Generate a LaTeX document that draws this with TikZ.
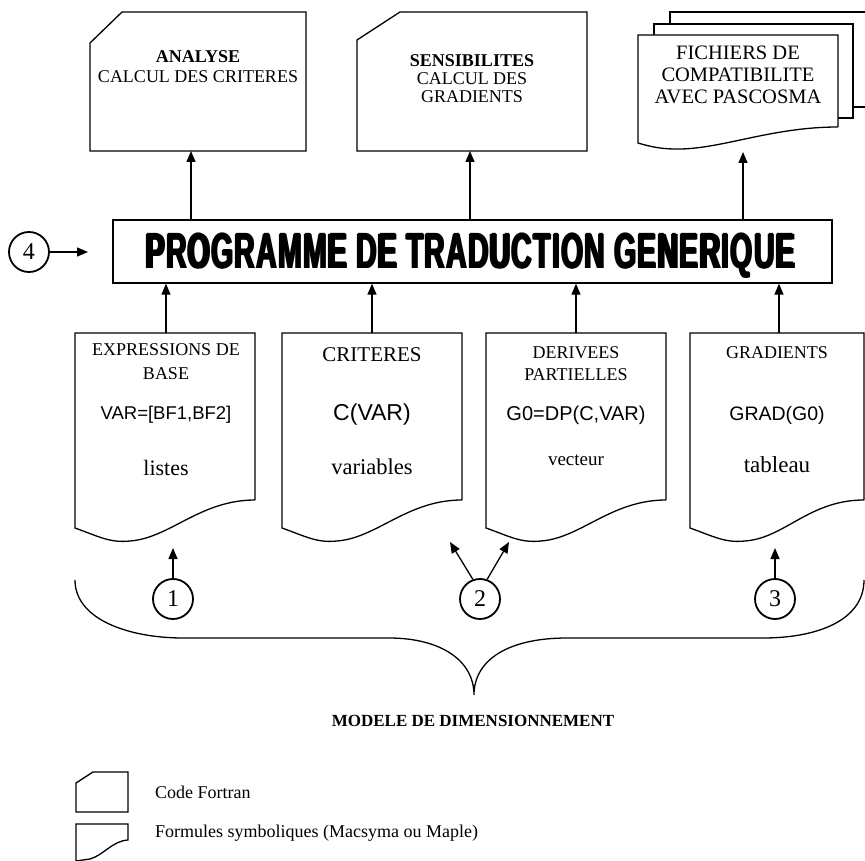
\documentclass[tikz,border=0pt]{standalone}
\usepackage{fontspec}
\setmainfont{Liberation Serif}
\newfontfamily\sansf{Liberation Sans}
\newfontfamily\titlef{Liberation Sans Bold}[LetterSpace=4]
\usetikzlibrary{arrows.meta,calc}

\newcommand{\fs}[2]{\fontsize{#1}{#2}\selectfont}
% overprinted, slightly shifted copies give the extra-black heading face
\newcommand{\heavytext}[1]{%
  \makebox[0pt][l]{\kern-0.4pt#1}%
  \makebox[0pt][l]{\kern0.4pt#1}%
  \makebox[0pt][l]{\raisebox{0.08pt}{#1}}%
  #1}

\tikzset{
  outline/.style={draw=black, line width=1.3pt, line join=miter, fill=white},
  arr/.style={line width=1.3pt, -{Triangle[length=11pt,width=9pt]}},
  lbl/.style={inner sep=0pt, align=center},
  num/.style={draw, circle, line width=1.8pt, minimum size=40pt, inner sep=0pt,
              font=\fs{24}{24}},
  mainbox/.style={draw, line width=1.3pt, minimum width=719pt, minimum height=63pt,
              inner sep=0pt},
}

% symbolic-formula sheet: flat top, wavy bottom (#1 = left x, #2 = right x)
\newcommand{\symsheet}[2]{%
  \draw[outline] (#2,500) -- (#2,333) -- (#1,333) -- (#1,528)
    .. controls +(25,9) and +(-20,2) .. ++(55,13)
    .. controls +(40,-3) and +(-55,0) .. (#2,500);}

\begin{document}
\begin{tikzpicture}[x=1pt,y=-1pt]
\useasboundingbox (0,0) rectangle (865,861);

% ---- Fortran code cards (top row) ----
\draw[outline] (90,43) -- (122,12) -- (306,12) -- (306,151) -- (90,151) -- cycle;
\node[lbl, font=\fs{18}{20}] (analyse) at (198,67)
  {\textbf{ANALYSE}\\CALCUL DES CRITERES};
\coordinate (analyse-in) at (191,151);

\draw[outline] (357,40) -- (400,12) -- (587,12) -- (587,151) -- (357,151) -- cycle;
\node[lbl, font=\fs{18}{18}] (sensib) at (472,79)
  {\textbf{SENSIBILITES}\\CALCUL DES\\GRADIENTS};
\coordinate (sensib-in) at (470,151);

% ---- stack of output files ----
\draw[outline] (670,107) -- (670,12) -- (875,12) -- (875,107) -- cycle;
\draw[outline] (654,118) -- (654,24) -- (853,24) -- (853,118) -- cycle;
\draw[outline] (838,127) -- (838,35) -- (638,35) -- (638,143)
  .. controls (648,146) and (660,149) .. (675,149)
  .. controls (720,150) and (770,127) .. (838,127);
\node[lbl, font=\fs{20.5}{22}] (fichiers) at (738,75)
  {FICHIERS DE\\COMPATIBILITE\\AVEC PASCOSMA};
\coordinate (fichiers-in) at (743,152);

% ---- translator ----
\node[mainbox] (main) at (472.5,251.5) {};
\node[inner sep=0pt, anchor=base] (title) at (470.5,268)
  {\resizebox{649pt}{35pt}{\titlef\heavytext{PROGRAMME DE TRADUCTION GENERIQUE}}};

\draw[arr] (main.north -| analyse-in) -- (analyse-in);
\draw[arr] (main.north -| sensib-in) -- (sensib-in);
\draw[arr] (main.north -| fichiers-in) -- (fichiers-in);

\node[num] (c4) at (29,252) {4};
\coordinate (c4-tip) at (88,252);
\draw[arr] (c4) -- (c4-tip);

% ---- symbolic inputs (bottom row) ----
\symsheet{75}{255}
\symsheet{282}{462}
\symsheet{486}{666}
\symsheet{690}{864}

\coordinate (expr-top) at (166,333);
\coordinate (crit-top) at (372,333);
\coordinate (deriv-top) at (576,333);
\coordinate (grad-top) at (779,333);
\draw[arr] (expr-top) -- (main.south -| expr-top);
\draw[arr] (crit-top) -- (main.south -| crit-top);
\draw[arr] (deriv-top) -- (main.south -| deriv-top);
\draw[arr] (grad-top) -- (main.south -| grad-top);

\node[lbl, font=\fs{18}{24}] (expr) at (166,362) {EXPRESSIONS DE\\BASE};
\node[lbl, font=\sansf\fs{18.5}{20}] (expr-f) at (166,415) {VAR=[BF1,BF2]};
\node[lbl, font=\fs{22}{24}] (expr-t) at (166,468) {listes};

\node[lbl, font=\fs{21}{24}] (crit) at (372,355) {CRITERES};
\node[lbl, font=\sansf\fs{23}{24}] (crit-f) at (372,415) {C(VAR)};
\node[lbl, font=\fs{22.5}{24}] (crit-t) at (372,467) {variables};

\node[lbl, font=\fs{18}{22}] (deriv) at (576,364) {DERIVEES\\PARTIELLES};
\node[lbl, font=\sansf\fs{20}{22}] (deriv-f) at (576,415) {G0=DP(C,VAR)};
\node[lbl, font=\fs{19}{22}] (deriv-t) at (576,460) {vecteur};

\node[lbl, font=\fs{18}{22}] (grad) at (777,353) {GRADIENTS};
\node[lbl, font=\sansf\fs{19.5}{22}] (grad-f) at (777,415) {GRAD(G0)};
\node[lbl, font=\fs{23}{24}] (grad-t) at (777,465) {tableau};

% ---- numbered steps ----
\node[num] (c1) at (173,599) {1};
\node[num] (c2) at (480,599) {2};
\node[num] (c3) at (775,599) {3};
\coordinate (c1-tip) at (173,548);
\coordinate (c2-tipl) at (450,542);
\coordinate (c2-tipr) at (509,542);
\coordinate (c3-tip) at (775,548);
\draw[arr] (c1) -- (c1-tip);
\draw[arr] (c2.110) -- (c2-tipl);
\draw[arr] (c2.70) -- (c2-tipr);
\draw[arr] (c3) -- (c3-tip);

% ---- grouping brace ----
\coordinate (br-l) at (75,580);
\coordinate (br-tip) at (474,695);
\coordinate (br-r) at (864,580);
\draw[line width=1.3pt] (br-l) .. controls (75,620) and (130,638) .. (183,638)
  -- (389,638) .. controls (440,638) and (474,660) .. (br-tip)
  .. controls (474,660) and (508,638) .. (567,638)
  -- (763,638) .. controls (818,638) and (864,620) .. (br-r);
\node[lbl, font=\bfseries\fs{17}{20}] (modele) at (473,721) {MODELE DE DIMENSIONNEMENT};

% ---- legend ----
\draw[outline] (76,783) -- (93,772) -- (128,772) -- (128,812) -- (76,812) -- cycle;
\node[lbl, anchor=west, font=\fs{18}{20}] (leg1) at (155,792) {Code Fortran};
\draw[outline] (76,861) -- (76,824) -- (128,824) -- (128,840)
  .. controls (112,841) and (104,855) .. (90,859) -- (76,861);
\node[lbl, anchor=west, font=\fs{18}{20}] (leg2) at (155,833)
  {Formules symboliques (Macsyma ou Maple)};
\end{tikzpicture}
\end{document}
